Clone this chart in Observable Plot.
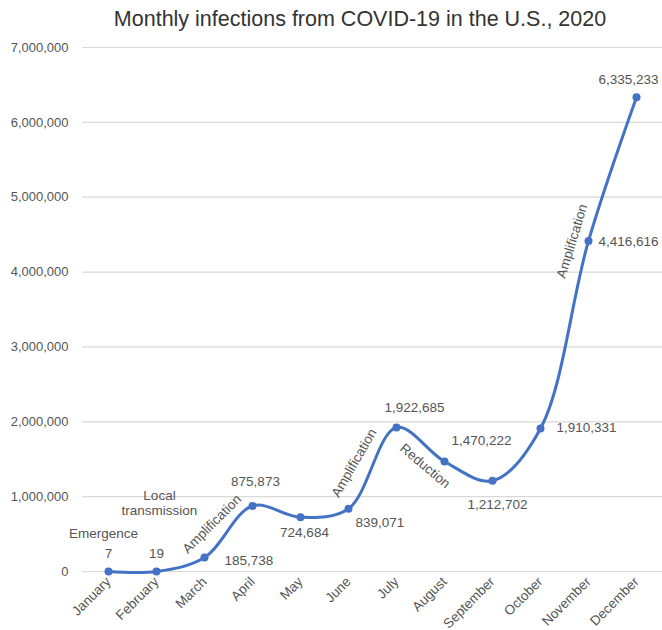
<!DOCTYPE html>
<html>
<head>
<meta charset="utf-8">
<script src="https://cdn.jsdelivr.net/npm/d3@7"></script>
<script src="https://cdn.jsdelivr.net/npm/@observablehq/plot@0.6"></script>
<style>
  body { margin: 0; background: #fff; font-family: "Liberation Sans", Arial, sans-serif; }
  #wrap { width: 662px; }
  #title { height: 40px; box-sizing: border-box; padding-top: 7px; padding-left: 58px; text-align: center;
           font-size: 21.5px; line-height: 25px; color: #333; white-space: nowrap; }
  svg { display: block; }
</style>
</head>
<body>
<div id="wrap">
  <div id="title">Monthly infections from COVID-19 in the U.S., 2020</div>
  <div id="chart"></div>
</div>
<script>
// ---- data ----
const months = ["January", "February", "March", "April", "May", "June", "July", "August", "September", "October", "November", "December"];
const infections = [7, 19, 185738, 875873, 724684, 839071, 1922685, 1470222, 1212702, 1910331, 4416616, 6335233];
const yTicks = [0, 1000000, 2000000, 3000000, 4000000, 5000000, 6000000, 7000000];
const phaseNames = ["Emergence", "Local\ntransmission", "Amplification", "Amplification", "Reduction", "Amplification"];
const phaseMonths = ["January", "February", "March", "June", "July", "November"];

// ---- layout (label placement, pixels) ----
const valueLabelLayout = [
  {dx: 0, dy: -18, anchor: "middle"},
  {dx: 0, dy: -18, anchor: "middle"},
  {dx: 20, dy: 3, anchor: "start"},
  {dx: 3, dy: -24, anchor: "middle"},
  {dx: 4, dy: 15, anchor: "middle"},
  {dx: 7, dy: 14, anchor: "start"},
  {dx: 18, dy: -20, anchor: "middle"},
  {dx: 37, dy: -21, anchor: "middle"},
  {dx: 5, dy: 24, anchor: "middle"},
  {dx: 16, dy: -1, anchor: "start"},
  {dx: 10, dy: 1, anchor: "start"},
  {dx: -8, dy: -18, anchor: "middle"}
];
const phaseLayout = [
  {dx: -5, dy: -38, rotate: 0},
  {dx: 3, dy: -69, rotate: 0},
  {dx: 7, dy: -34, rotate: -45},
  {dx: 5, dy: -46, rotate: -60},
  {dx: 29, dy: 38, rotate: 40},
  {dx: -17, dy: 0, rotate: -73}
];

const data = months.map((m, i) => ({month: m, value: infections[i]}));
const fmt = d3.format(",");
const blue = "#4472c4";
const textColor = "#555";
const font = "Liberation Sans, Arial, sans-serif";

const valueMarks = data.map((d, i) => Plot.text([d], {
  x: "month", y: "value", text: d => fmt(d.value),
  dx: valueLabelLayout[i].dx, dy: valueLabelLayout[i].dy, textAnchor: valueLabelLayout[i].anchor,
  fill: textColor, fontSize: 13.5
}));

const phaseMarks = phaseNames.map((name, i) => {
  const d = data.find(e => e.month === phaseMonths[i]);
  return Plot.text([d], {
    x: "month", y: "value", text: () => name,
    dx: phaseLayout[i].dx, dy: phaseLayout[i].dy, rotate: phaseLayout[i].rotate,
    lineAnchor: "middle", lineHeight: 1.15,
    fill: textColor, fontSize: 13.5
  });
});

const chart = Plot.plot({
  width: 662,
  height: 590,
  marginTop: 7,
  marginBottom: 59,
  marginLeft: 82,
  marginRight: 0,
  style: {fontFamily: font, fontSize: "13px", color: textColor, background: "#fff"},
  x: {type: "point", domain: months, padding: 0.5, label: null},
  y: {domain: [0, 7000000], label: null},
  marks: [
    Plot.gridY(yTicks, {stroke: "#d9d9d9", strokeOpacity: 1, strokeWidth: 1.2}),
    Plot.axisY(yTicks, {tickSize: 0, tickPadding: 14, tickFormat: fmt, fontSize: 13, fill: textColor, label: null}),
    Plot.axisX({tickSize: 0, tickPadding: 8, tickRotate: -45, fontSize: 13.5, fill: textColor, label: null}),
    Plot.line(data, {x: "month", y: "value", curve: "catmull-rom", stroke: blue, strokeWidth: 3}),
    Plot.dot(data, {x: "month", y: "value", r: 4, fill: blue}),
    ...valueMarks,
    ...phaseMarks
  ]
});
document.getElementById("chart").appendChild(chart);
</script>
</body>
</html>
